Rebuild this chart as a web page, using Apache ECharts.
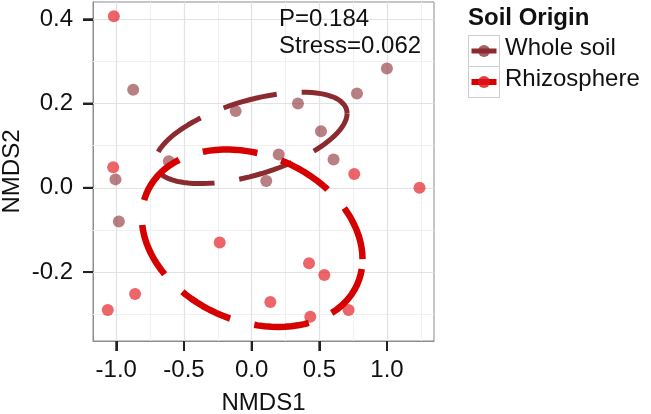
<!DOCTYPE html>
<html><head><meta charset="utf-8">
<script src="https://cdn.jsdelivr.net/npm/echarts@6/dist/echarts.min.js"></script>
<style>html,body{margin:0;padding:0;background:#fff}#c{width:651px;height:414px}</style>
</head><body><div id="c"></div>
<script>
// ---- data ----
const groups = ['Whole soil', 'Rhizosphere'];
const wholeX = [0.999, -0.875, 0.778, 0.342, -0.118, 0.512, 0.200, 0.605, -0.612, -1.006, 0.108, -0.981];
const wholeY = [0.283, 0.233, 0.224, 0.200, 0.182, 0.134, 0.079, 0.067, 0.063, 0.020, 0.016, -0.080];
const rhizoX = [-1.018, -1.023, 0.758, 1.240, -0.236, 0.424, 0.537, -0.861, -1.063, 0.138, 0.433, 0.716];
const rhizoY = [0.407, 0.049, 0.033, 0.000, -0.130, -0.179, -0.207, -0.252, -0.290, -0.271, -0.306, -0.290];
const xTicks = [-1.0, -0.5, 0.0, 0.5, 1.0];
const yTicks = [0.4, 0.2, 0.0, -0.2];
const xMinor = [-0.75, -0.25, 0.25, 0.75, 1.25];
const yMinor = [0.3, 0.1, -0.1, -0.3];
const annoLines = ['P=0.184', 'Stress=0.062'];
const legendTitle = 'Soil Origin';
const xRange = [-1.172, 1.347];
const yRange = [-0.3636, 0.441];

// ---- styles ----
const FONT = 'Liberation Sans, Arial, Helvetica, sans-serif';
const pointColors = ['rgba(139,43,48,0.75)', 'rgba(226,20,26,0.82)'];
const ellipseColors = ['#8B2B30', '#D60000'];
const ellipseWidths = [5, 6.5];

// 1-SD covariance ellipse computed from the group's points (as in vegan's ordiellipse kind="sd")
function sdEllipse(xs, ys, npts) {
  const n = xs.length;
  const mx = xs.reduce((a, b) => a + b, 0) / n;
  const my = ys.reduce((a, b) => a + b, 0) / n;
  let sxx = 0, syy = 0, sxy = 0;
  for (let i = 0; i < n; i++) {
    const dx = xs[i] - mx, dy = ys[i] - my;
    sxx += dx * dx; syy += dy * dy; sxy += dx * dy;
  }
  sxx /= (n - 1); syy /= (n - 1); sxy /= (n - 1);
  const a = Math.sqrt(sxx), b = sxy / a, c = Math.sqrt(syy - b * b);
  const out = [];
  for (let i = 0; i < npts; i++) {
    const t = 2 * Math.PI * i / (npts - 1);
    const u = Math.cos(t), v = Math.sin(t);
    out.push([mx + u * a, my + u * b + v * c]);
  }
  return out;
}

const groupX = [wholeX, rhizoX];
const groupY = [wholeY, rhizoY];

const gridMajor = { color: '#E2E2E2', width: 1.2, type: 'solid' };
const gridMinor = { color: '#F0F0F0', width: 1, type: 'solid' };

const series = [];
series.push({
  type: 'scatter', data: [], z: 1, silent: true,
  markLine: {
    silent: true, symbol: ['none', 'none'], label: { show: false }, z: 1, animation: false,
    data: [
      ...xMinor.map(v => ({ xAxis: v, lineStyle: gridMinor })),
      ...yMinor.map(v => ({ yAxis: v, lineStyle: gridMinor })),
      ...xTicks.map(v => ({ xAxis: v, lineStyle: gridMajor })),
      ...yTicks.map(v => ({ yAxis: v, lineStyle: gridMajor }))
    ]
  }
});
groups.forEach((g, k) => {
  series.push({
    name: g, type: 'scatter', z: 3, symbol: 'circle', symbolSize: 12,
    itemStyle: { color: pointColors[k] },
    data: groupX[k].map((x, i) => [x, groupY[k][i]])
  });
});
groups.forEach((g, k) => {
  series.push({
    name: g + ' ellipse', type: 'line', z: 4 + k, showSymbol: false, symbol: 'none', smooth: false,
    lineStyle: { color: ellipseColors[k], width: ellipseWidths[k], type: [55, 25], cap: 'butt' },
    data: sdEllipse(groupX[k], groupY[k], 100)
  });
});

const axisLineStyle = { show: true, onZero: false, lineStyle: { color: '#8C8C8C', width: 1 } };
const tickStyle = { color: '#222', width: 2 };
const TICK_LEN = 10;

const graphics = [
  { type: 'text', left: 279, top: 7, z: 10, style: { text: annoLines[0], font: '24px ' + FONT, fill: '#111' } },
  { type: 'text', left: 279, top: 34, z: 10, style: { text: annoLines[1], font: '24px ' + FONT, fill: '#111' } },
  { type: 'text', left: 468, top: 6, z: 10, style: { text: legendTitle, font: 'bold 24px ' + FONT, fill: '#111' } },
  { type: 'rect', z: 10, shape: { x: 468.5, y: 35.5, width: 31, height: 31 }, style: { fill: '#fff', stroke: '#CCCCCC', lineWidth: 1 } },
  { type: 'rect', z: 10, shape: { x: 468.5, y: 66.5, width: 31, height: 31 }, style: { fill: '#fff', stroke: '#CCCCCC', lineWidth: 1 } },
  { type: 'line', z: 11, shape: { x1: 471.5, y1: 51, x2: 496.5, y2: 51 }, style: { stroke: ellipseColors[0], lineWidth: 5 } },
  { type: 'line', z: 11, shape: { x1: 471.5, y1: 82, x2: 496.5, y2: 82 }, style: { stroke: ellipseColors[1], lineWidth: 6 } },
  { type: 'circle', z: 12, shape: { cx: 484, cy: 51, r: 6 }, style: { fill: pointColors[0] } },
  { type: 'circle', z: 12, shape: { cx: 484, cy: 82, r: 6 }, style: { fill: pointColors[1] } },
  { type: 'text', left: 505, top: 36, z: 10, style: { text: groups[0], font: '24px ' + FONT, fill: '#111' } },
  { type: 'text', left: 505, top: 67, z: 10, style: { text: groups[1], font: '24px ' + FONT, fill: '#111' } }
];

const chart = echarts.init(document.getElementById('c'), null, { renderer: 'canvas' });
chart.setOption({
  animation: false,
  backgroundColor: '#fff',
  grid: { left: 93, top: 2, width: 341, height: 339, show: true, borderColor: '#8C8C8C', borderWidth: 1, backgroundColor: '#fff', containLabel: false, outerBoundsMode: 'none' },
  xAxis: {
    type: 'value', min: xRange[0], max: xRange[1],
    axisLine: axisLineStyle, splitLine: { show: false },
    axisTick: { show: true, customValues: xTicks, length: TICK_LEN, lineStyle: tickStyle },
    axisLabel: { customValues: xTicks, formatter: v => v.toFixed(1), fontSize: 24, fontFamily: FONT, color: '#111', margin: 17 },
    name: 'NMDS1', nameLocation: 'middle', nameGap: 50, nameMoveOverlap: false,
    nameTextStyle: { fontSize: 24, fontFamily: FONT, color: '#111' }
  },
  yAxis: {
    type: 'value', min: yRange[0], max: yRange[1],
    axisLine: axisLineStyle, splitLine: { show: false },
    axisTick: { show: true, customValues: yTicks, length: TICK_LEN, lineStyle: tickStyle },
    axisLabel: { customValues: yTicks, formatter: v => v.toFixed(1), fontSize: 24, fontFamily: FONT, color: '#111', margin: 20 },
    name: 'NMDS2', nameLocation: 'middle', nameGap: 69, nameMoveOverlap: false,
    nameTextStyle: { fontSize: 24, fontFamily: FONT, color: '#111' }
  },
  series: series,
  graphic: graphics
});

// outside tick marks placed through the chart's own scales
const tickGraphics = [];
xTicks.forEach(v => {
  const p = chart.convertToPixel({ gridIndex: 0 }, [v, yRange[0]]);
  tickGraphics.push({ type: 'line', z: 20, shape: { x1: p[0], y1: p[1], x2: p[0], y2: p[1] + TICK_LEN }, style: { stroke: tickStyle.color, lineWidth: tickStyle.width } });
});
yTicks.forEach(v => {
  const p = chart.convertToPixel({ gridIndex: 0 }, [xRange[0], v]);
  tickGraphics.push({ type: 'line', z: 20, shape: { x1: p[0] - TICK_LEN, y1: p[1], x2: p[0], y2: p[1] }, style: { stroke: tickStyle.color, lineWidth: tickStyle.width } });
});
chart.setOption({ graphic: graphics.concat(tickGraphics) });
</script></body></html>
